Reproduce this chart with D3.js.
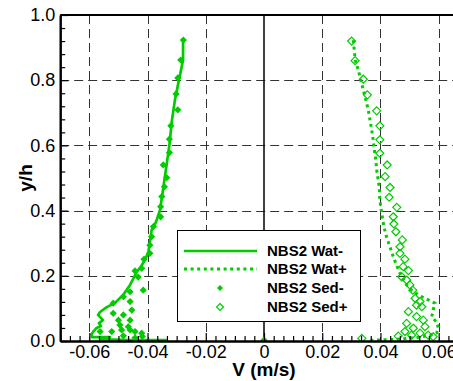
<!DOCTYPE html>
<html><head><meta charset="utf-8">
<script src="https://cdn.jsdelivr.net/npm/d3@7"></script>
<style>body{margin:0;background:#fff}svg{display:block}text{font-family:Arial,"Liberation Sans",sans-serif}</style>
</head><body><div id="c"></div>
<script>
// ---- data ----
const watMinusV = [-0.0278,-0.0278,-0.0292,-0.0306,-0.0316,-0.0325,-0.0337,-0.0347,-0.0357,-0.0371,-0.0386,-0.0397,-0.0409,-0.0426,-0.0437,-0.0460,-0.0484,-0.0512,-0.0540,-0.0563,-0.0570,-0.0553,-0.0567,-0.0560,-0.0575,-0.0587,-0.0592,-0.0591,-0.0529,-0.0563,-0.0460,-0.0330];
const watMinusY = [0.923,0.862,0.801,0.739,0.678,0.601,0.525,0.463,0.402,0.365,0.340,0.274,0.248,0.224,0.212,0.172,0.141,0.117,0.104,0.089,0.080,0.064,0.055,0.046,0.040,0.028,0.021,0.012,0.012,0.006,0.003,0.003];
const watPlusV = [0.0307,0.0313,0.0324,0.0332,0.0341,0.0350,0.0358,0.0364,0.0370,0.0375,0.0379,0.0384,0.0388,0.0396,0.0398,0.0404,0.0412,0.0421,0.0433,0.0444,0.0458,0.0473,0.0490,0.0507,0.0530,0.0564,0.0587,0.0581,0.0576,0.0593,0.0599,0.0593,0.0570,0.0536,0.0467,0.0398,0.0357];
const watPlusY = [0.923,0.862,0.831,0.801,0.770,0.739,0.709,0.678,0.647,0.617,0.586,0.555,0.518,0.472,0.433,0.393,0.350,0.319,0.288,0.258,0.227,0.196,0.172,0.156,0.141,0.126,0.116,0.095,0.074,0.058,0.040,0.025,0.018,0.012,0.006,0.003,0.002];
const sedMinusV = [-0.0277,-0.0286,-0.0296,-0.0302,-0.0296,-0.0320,-0.0325,-0.0325,-0.0346,-0.0334,-0.0342,-0.0351,-0.0355,-0.0355,-0.0380,-0.0386,-0.0392,-0.0392,-0.0412,-0.0420,-0.0443,-0.0432,-0.0460,-0.0415,-0.0483,-0.0460,-0.0518,-0.0454,-0.0518,-0.0483,-0.0500,-0.0460,-0.0495,-0.0466,-0.0489,-0.0460,-0.0443,-0.0420,-0.0523,-0.0563,-0.0483,-0.0443,-0.0418,0.0];
const sedMinusY = [0.923,0.862,0.807,0.758,0.709,0.660,0.619,0.578,0.540,0.501,0.473,0.443,0.412,0.381,0.351,0.320,0.294,0.269,0.251,0.223,0.215,0.196,0.151,0.156,0.136,0.121,0.116,0.095,0.085,0.080,0.064,0.064,0.049,0.044,0.034,0.034,0.029,0.024,0.029,0.029,0.016,0.010,0.014,0.003];
const sedPlusV = [0.0301,0.0313,0.0341,0.0355,0.0387,0.0398,0.0398,0.0398,0.0423,0.0416,0.0433,0.0430,0.0456,0.0444,0.0446,0.0453,0.0475,0.0467,0.0467,0.0484,0.0478,0.0496,0.0473,0.0490,0.0501,0.0511,0.0519,0.0536,0.0524,0.0542,0.0496,0.0524,0.0547,0.0490,0.0553,0.0513,0.0484,0.0536,0.0461,0.0507,0.0564,0.0581,0.0336];
const sedPlusY = [0.920,0.860,0.803,0.755,0.706,0.660,0.617,0.576,0.540,0.504,0.471,0.441,0.410,0.381,0.359,0.335,0.310,0.289,0.269,0.251,0.228,0.216,0.197,0.187,0.172,0.156,0.131,0.121,0.110,0.105,0.090,0.075,0.064,0.054,0.044,0.039,0.029,0.024,0.015,0.018,0.018,0.013,0.008];
const xMajorTicks = [-0.06,-0.04,-0.02,0,0.02,0.04,0.06];
const yMajorTicks = [0,0.2,0.4,0.6,0.8,1.0];
const xGrid = [-0.06,-0.04,-0.02,0.02,0.04,0.06];
const yGrid = [0.2,0.4,0.6,0.8];
const legendLabels = ["NBS2 Wat-","NBS2 Wat+","NBS2 Sed-","NBS2 Sed+"];

// ---- drawing ----
const W=453,H=381, GREEN="rgb(0,204,0)";
const x=d3.scaleLinear().domain([-0.07,0.07]).range([60.2,467.8]);
const y=d3.scaleLinear().domain([0,1]).range([341,15]);
const svg=d3.select("#c").append("svg").attr("width",W).attr("height",H);
svg.append("defs").append("clipPath").attr("id","clip").append("rect")
  .attr("x",x(-0.07)).attr("y",y(1)).attr("width",x(0.07)-x(-0.07)).attr("height",y(0)-y(1));

// grid
const g=svg.append("g");
g.selectAll(".vg").data(xGrid).join("line").attr("x1",d=>Math.round(x(d))+0.5).attr("x2",d=>Math.round(x(d))+0.5)
  .attr("y1",y(1)).attr("y2",y(0)).attr("stroke","#333").attr("stroke-width",1).attr("stroke-dasharray","9,5");
g.selectAll(".hg").data(yGrid).join("line").attr("y1",d=>Math.round(y(d))+0.5).attr("y2",d=>Math.round(y(d))+0.5)
  .attr("x1",x(-0.07)).attr("x2",x(0.07)).attr("stroke","#333").attr("stroke-width",1).attr("stroke-dasharray","9,5");
// zero line
g.append("line").attr("x1",x(0)).attr("x2",x(0)).attr("y1",y(1)).attr("y2",y(0)).attr("stroke","#000").attr("stroke-width",1.5);

const data=svg.append("g").attr("clip-path","url(#clip)");
const line=d3.line().x(d=>x(d[0])).y(d=>y(d[1]));
data.append("path").datum(watMinusV.map((v,i)=>[v,watMinusY[i]])).attr("d",line)
  .attr("fill","none").attr("stroke",GREEN).attr("stroke-width",2.7).attr("stroke-linejoin","round");
data.append("path").datum(watPlusV.map((v,i)=>[v,watPlusY[i]])).attr("d",line)
  .attr("fill","none").attr("stroke",GREEN).attr("stroke-width",3).attr("stroke-dasharray","3,3.6");
const diamond=(r)=>`M0,${-r}L${r},0L0,${r}L${-r},0Z`;
data.selectAll(".sm").data(sedMinusV.map((v,i)=>[v,sedMinusY[i]])).join("path")
  .attr("d",diamond(3.6)).attr("transform",d=>`translate(${x(d[0])},${y(d[1])})`).attr("fill",GREEN);
data.selectAll(".sp").data(sedPlusV.map((v,i)=>[v,sedPlusY[i]])).join("path")
  .attr("d",diamond(4)).attr("transform",d=>`translate(${x(d[0])},${y(d[1])})`).attr("fill","none").attr("stroke",GREEN).attr("stroke-width",1.2);

// axes
const xMinor=d3.range(-0.07,0.0701,0.02/6).filter(v=>!xMajorTicks.some(m=>Math.abs(m-v)<1e-6));
const yMinor=d3.range(0,1.0001,0.04).filter(v=>!yMajorTicks.some(m=>Math.abs(m-v)<1e-6));
const xa=svg.append("g").attr("transform",`translate(0,${y(0)})`);
xa.call(d3.axisBottom(x).tickValues(xMajorTicks).tickSizeInner(-8).tickSizeOuter(0).tickPadding(4)
  .tickFormat(d=>d===0?"0":d.toFixed(2)));
xa.append("g").call(d3.axisBottom(x).tickValues(xMinor).tickSizeInner(-5).tickSizeOuter(0).tickFormat(""));
const ya=svg.append("g").attr("transform",`translate(${x(-0.07)},0)`);
ya.call(d3.axisLeft(y).tickValues(yMajorTicks).tickSizeInner(-8).tickSizeOuter(0).tickPadding(5)
  .tickFormat(d=>d.toFixed(1)));
ya.append("g").call(d3.axisLeft(y).tickValues(yMinor).tickSizeInner(-5).tickSizeOuter(0).tickFormat(""));
svg.selectAll(".tick line").attr("stroke","#000").attr("stroke-width",1.2);
svg.selectAll(".domain").attr("stroke","#000").attr("stroke-width",2);
svg.selectAll(".tick text").attr("font-size",18).attr("fill","#000").style("font-family","Arial, 'Liberation Sans', sans-serif");
// top border
svg.append("line").attr("x1",x(-0.07)).attr("x2",x(0.07)).attr("y1",y(1)).attr("y2",y(1)).attr("stroke","#000").attr("stroke-width",2);

// axis titles
svg.append("text").attr("x",x(0)).attr("y",376).attr("text-anchor","middle").attr("font-size",19).attr("font-weight","bold").text("V (m/s)");
svg.append("text").attr("transform",`translate(32,${(y(0)+y(1))/2}) rotate(-90)`).attr("text-anchor","middle").attr("font-size",19).attr("font-weight","bold").text("y/h");

// legend
const lg=svg.append("g");
lg.append("rect").attr("x",177.5).attr("y",230.5).attr("width",183).attr("height",91).attr("fill","#fff").attr("stroke","#000").attr("stroke-width",1);
const rows=[251,269,288,307];
lg.append("line").attr("x1",184).attr("x2",257).attr("y1",rows[0]).attr("y2",rows[0]).attr("stroke",GREEN).attr("stroke-width",2.7);
lg.append("line").attr("x1",184).attr("x2",257).attr("y1",rows[1]).attr("y2",rows[1]).attr("stroke",GREEN).attr("stroke-width",3).attr("stroke-dasharray","3,3.6");
lg.append("path").attr("d",diamond(3)).attr("transform",`translate(220,${rows[2]})`).attr("fill",GREEN);
lg.append("path").attr("d",diamond(3.5)).attr("transform",`translate(220,${rows[3]})`).attr("fill","none").attr("stroke",GREEN).attr("stroke-width",1.2);
lg.selectAll(".lt").data(legendLabels).join("text").attr("x",267).attr("y",(d,i)=>rows[i]+5)
  .attr("font-size",15).attr("font-weight","bold").text(d=>d);
</script></body></html>
